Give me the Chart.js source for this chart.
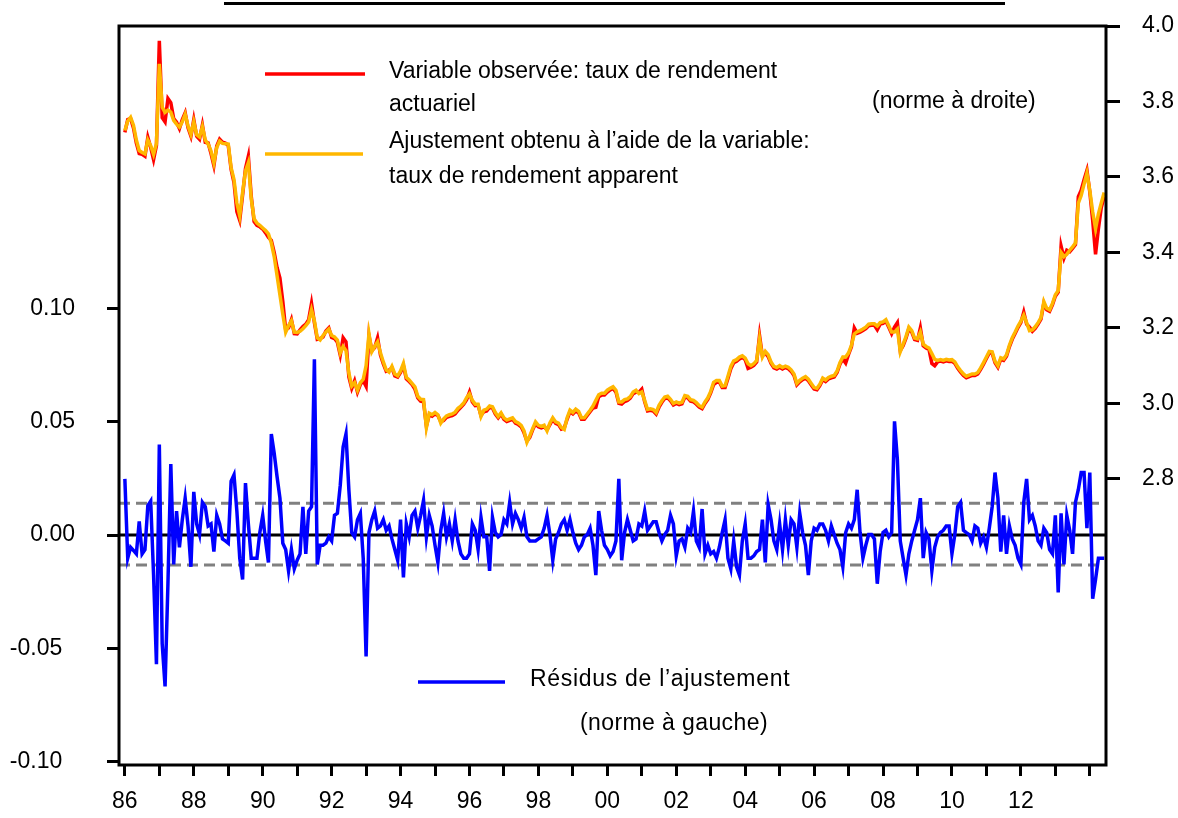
<!DOCTYPE html>
<html>
<head>
<meta charset="utf-8">
<script src="https://cdn.jsdelivr.net/npm/chart.js@4.4.1/dist/chart.umd.min.js"></script>
<style>
  html, body { margin: 0; padding: 0; background: #ffffff; }
  #wrap { position: relative; width: 1178px; height: 818px; }
</style>
</head>
<body>
<div id="wrap"><canvas id="c" width="1178" height="818"></canvas></div>
<script>
// ---- Data (monthly, Jan 1986 .. Jun 2014) ----
const startYear = 1986;
const xTickLabelYears = [1986, 1988, 1990, 1992, 1994, 1996, 1998, 2000, 2002, 2004, 2006, 2008, 2010, 2012];
const leftTicks = [-0.10, -0.05, 0.00, 0.05, 0.10];
const rightTicks = [2.8, 3.0, 3.2, 3.4, 3.6, 3.8, 4.0];
const bandUpper = 0.0140;
const bandLower = -0.0132;

// Variable observée : taux de rendement actuariel (right axis)
const observed = [
  3.718,3.752,3.755,3.730,3.690,3.662,3.660,3.655,3.705,3.678,3.646,3.683,
  3.961,3.757,3.746,3.808,3.797,3.755,3.745,3.728,3.752,3.770,3.730,3.708,
  3.752,3.708,3.700,3.738,3.692,3.690,3.662,3.630,3.682,3.700,3.692,3.690,
  3.684,3.620,3.585,3.508,3.485,3.552,3.622,3.655,3.550,3.482,3.472,3.468,
  3.462,3.452,3.440,3.432,3.400,3.360,3.332,3.270,3.195,3.200,3.222,3.185,
  3.184,3.195,3.204,3.210,3.222,3.265,3.214,3.170,3.172,3.176,3.192,3.200,
  3.175,3.172,3.162,3.128,3.174,3.163,3.070,3.040,3.060,3.030,3.050,3.060,
  3.045,3.180,3.140,3.148,3.174,3.128,3.105,3.085,3.088,3.094,3.073,3.070,
  3.082,3.100,3.065,3.058,3.050,3.038,3.015,3.006,3.004,2.940,2.970,2.966,
  2.972,2.968,2.952,2.955,2.963,2.966,2.968,2.972,2.982,2.990,2.998,3.010,
  3.030,3.004,2.994,2.995,2.968,2.978,2.980,2.990,2.988,2.972,2.962,2.972,
  2.958,2.952,2.955,2.958,2.948,2.944,2.938,2.922,2.900,2.910,2.930,2.946,
  2.938,2.935,2.938,2.930,2.944,2.958,2.947,2.944,2.932,2.935,2.958,2.978,
  2.972,2.980,2.975,2.958,2.958,2.968,2.978,2.988,2.990,3.018,3.022,3.022,
  3.030,3.036,3.040,3.030,3.000,2.998,3.005,3.008,3.014,3.026,3.030,3.030,
  3.038,3.004,2.980,2.982,2.980,2.972,2.990,3.003,3.013,3.015,3.007,2.996,
  3.000,2.997,2.999,3.017,3.015,3.006,3.004,2.998,2.990,2.986,3.000,3.011,
  3.028,3.050,3.056,3.057,3.042,3.042,3.066,3.092,3.108,3.112,3.118,3.122,
  3.116,3.093,3.096,3.101,3.110,3.180,3.126,3.134,3.124,3.106,3.094,3.091,
  3.096,3.091,3.095,3.092,3.085,3.074,3.049,3.057,3.063,3.067,3.060,3.049,
  3.038,3.036,3.047,3.063,3.058,3.065,3.068,3.070,3.082,3.104,3.118,3.107,
  3.130,3.150,3.200,3.186,3.189,3.193,3.198,3.206,3.207,3.207,3.195,3.210,
  3.212,3.218,3.202,3.185,3.202,3.214,3.140,3.153,3.173,3.198,3.189,3.169,
  3.167,3.200,3.153,3.147,3.143,3.106,3.100,3.110,3.112,3.110,3.113,3.111,
  3.112,3.106,3.093,3.083,3.074,3.068,3.071,3.074,3.074,3.078,3.090,3.104,
  3.119,3.134,3.133,3.108,3.096,3.117,3.114,3.125,3.150,3.170,3.185,3.201,
  3.214,3.242,3.210,3.202,3.191,3.199,3.210,3.223,3.266,3.248,3.244,3.261,
  3.284,3.295,3.417,3.385,3.406,3.402,3.411,3.421,3.548,3.565,3.593,3.618,
  3.560,3.485,3.395,3.463,3.519,3.548
];

// Ajustement obtenu à l'aide du taux de rendement apparent (right axis)
const fitted = [
  3.723,3.748,3.758,3.737,3.698,3.670,3.665,3.661,3.698,3.683,3.660,3.689,
  3.900,3.785,3.771,3.777,3.772,3.750,3.740,3.732,3.746,3.766,3.735,3.713,
  3.746,3.712,3.706,3.733,3.698,3.687,3.669,3.637,3.678,3.695,3.689,3.688,
  3.687,3.625,3.593,3.531,3.497,3.559,3.616,3.638,3.542,3.489,3.478,3.472,
  3.465,3.458,3.449,3.425,3.389,3.338,3.287,3.236,3.189,3.206,3.219,3.189,
  3.188,3.191,3.198,3.206,3.216,3.248,3.219,3.174,3.168,3.180,3.189,3.197,
  3.180,3.176,3.168,3.134,3.151,3.140,3.080,3.046,3.055,3.035,3.055,3.064,
  3.100,3.185,3.137,3.151,3.163,3.134,3.110,3.089,3.083,3.098,3.078,3.073,
  3.086,3.106,3.069,3.062,3.053,3.044,3.019,3.011,3.010,2.936,2.974,2.970,
  2.976,2.970,2.948,2.959,2.967,2.970,2.972,2.977,2.987,2.993,3.001,3.015,
  3.025,3.008,2.998,2.998,2.965,2.982,2.985,2.993,2.991,2.976,2.965,2.975,
  2.962,2.956,2.959,2.962,2.952,2.948,2.942,2.927,2.897,2.914,2.933,2.951,
  2.942,2.939,2.942,2.927,2.948,2.962,2.951,2.948,2.936,2.931,2.962,2.982,
  2.976,2.985,2.979,2.962,2.962,2.972,2.982,2.993,3.008,3.023,3.027,3.027,
  3.035,3.040,3.044,3.035,3.004,3.004,3.010,3.012,3.018,3.030,3.035,3.026,
  3.030,3.008,2.984,2.986,2.984,2.976,2.995,3.007,3.017,3.019,3.011,3.000,
  3.004,3.001,3.003,3.021,3.019,3.010,3.008,3.002,2.994,2.990,3.004,3.015,
  3.032,3.056,3.061,3.061,3.046,3.047,3.072,3.098,3.113,3.116,3.123,3.126,
  3.120,3.105,3.100,3.105,3.114,3.171,3.123,3.138,3.129,3.110,3.098,3.095,
  3.100,3.095,3.099,3.096,3.089,3.078,3.053,3.061,3.067,3.071,3.064,3.053,
  3.042,3.040,3.051,3.067,3.062,3.069,3.072,3.074,3.086,3.108,3.123,3.123,
  3.134,3.154,3.184,3.190,3.193,3.197,3.202,3.210,3.211,3.211,3.205,3.214,
  3.216,3.222,3.206,3.189,3.189,3.197,3.137,3.157,3.177,3.202,3.193,3.173,
  3.171,3.189,3.157,3.151,3.147,3.132,3.117,3.114,3.116,3.114,3.117,3.115,
  3.116,3.110,3.097,3.087,3.078,3.072,3.075,3.078,3.078,3.082,3.094,3.108,
  3.123,3.138,3.137,3.112,3.100,3.121,3.118,3.129,3.154,3.174,3.189,3.205,
  3.218,3.234,3.214,3.193,3.195,3.203,3.214,3.227,3.270,3.252,3.248,3.265,
  3.288,3.299,3.400,3.389,3.395,3.406,3.415,3.425,3.531,3.551,3.581,3.610,
  3.564,3.508,3.463,3.502,3.531,3.559
];

// Résidus de l'ajustement (left axis)
const residuals = [
  0.0248,-0.0102,-0.0054,-0.0068,-0.0083,0.0060,-0.0083,-0.0064,0.0130,0.0150,-0.0177,-0.0570,
  0.0400,-0.0480,-0.0668,-0.0215,0.0313,-0.0130,0.0106,-0.0054,0.0068,0.0163,0.0040,-0.0140,
  0.0191,0.0049,0.0002,0.0144,0.0125,0.0040,0.0049,-0.0073,0.0087,0.0049,-0.0017,-0.0026,
  -0.0036,0.0238,0.0266,0.0106,-0.0102,-0.0196,0.0229,0.0049,-0.0102,-0.0102,-0.0102,0.0011,
  0.0087,-0.0026,-0.0121,0.0446,0.0361,0.0257,0.0163,-0.0036,-0.0064,-0.0158,-0.0064,-0.0149,
  -0.0111,-0.0083,0.0125,-0.0083,0.0106,0.0125,0.0776,-0.0130,-0.0045,-0.0045,-0.0036,-0.0008,
  -0.0026,0.0087,0.0096,0.0219,0.0389,0.0446,0.0200,0.0011,-0.0008,0.0068,0.0096,-0.0102,
  -0.0536,0.0011,0.0068,0.0106,0.0030,0.0040,0.0068,0.0021,0.0040,-0.0017,-0.0064,-0.0111,
  0.0068,-0.0187,0.0049,-0.0008,0.0087,0.0106,0.0030,0.0087,0.0153,-0.0008,0.0087,0.0040,
  -0.0045,-0.0121,0.0021,0.0096,-0.0008,0.0049,-0.0026,0.0068,-0.0026,-0.0083,-0.0102,-0.0102,
  -0.0083,0.0049,0.0021,-0.0064,0.0078,-0.0008,-0.0008,-0.0158,0.0078,0.0011,-0.0008,0.0002,
  0.0068,0.0049,0.0144,0.0049,0.0096,0.0068,0.0030,0.0078,-0.0008,-0.0026,-0.0026,-0.0026,
  -0.0017,-0.0008,0.0030,0.0087,0.0002,-0.0111,-0.0017,0.0011,0.0049,0.0068,0.0021,0.0068,
  0.0011,-0.0036,-0.0064,-0.0045,-0.0008,0.0002,0.0030,-0.0045,-0.0177,0.0106,0.0021,-0.0045,
  -0.0064,-0.0092,-0.0073,-0.0026,0.0248,-0.0111,0.0011,0.0068,0.0021,-0.0026,-0.0017,0.0049,
  0.0040,0.0106,0.0021,0.0040,0.0059,0.0059,0.0011,-0.0026,0.0002,0.0021,0.0087,0.0049,
  -0.0092,-0.0026,-0.0017,-0.0054,0.0030,0.0011,0.0106,-0.0026,-0.0054,0.0115,-0.0083,-0.0045,
  -0.0083,-0.0073,-0.0102,-0.0054,0.0011,0.0068,-0.0102,-0.0149,-0.0026,-0.0140,-0.0177,-0.0026,
  0.0049,-0.0102,-0.0102,-0.0092,-0.0073,-0.0064,0.0068,-0.0121,0.0134,0.0068,-0.0026,-0.0064,
  0.0049,-0.0064,0.0068,-0.0045,0.0068,0.0049,-0.0054,0.0096,0.0011,-0.0045,-0.0177,-0.0026,
  0.0030,0.0021,0.0049,0.0049,0.0021,-0.0026,0.0040,0.0002,-0.0036,-0.0064,-0.0140,0.0011,
  0.0049,0.0030,0.0068,0.0200,0.0011,-0.0102,-0.0045,0.0002,0.0002,-0.0017,-0.0215,-0.0073,
  0.0011,0.0021,-0.0008,0.0011,0.0502,0.0332,-0.0026,-0.0102,-0.0177,-0.0083,-0.0026,0.0021,
  0.0068,0.0163,-0.0102,0.0011,-0.0017,-0.0158,-0.0054,-0.0008,0.0011,0.0021,0.0040,0.0040,
  -0.0083,0.0002,0.0125,0.0144,0.0021,0.0011,0.0002,-0.0026,0.0040,0.0030,-0.0036,-0.0008,
  -0.0054,0.0030,0.0125,0.0276,0.0163,-0.0073,0.0087,-0.0083,0.0040,-0.0017,-0.0045,-0.0102,
  -0.0130,0.0144,0.0248,0.0068,0.0087,0.0040,-0.0026,-0.0045,0.0030,0.0011,-0.0064,-0.0083,
  0.0087,-0.0253,0.0096,-0.0130,0.0087,0.0021,-0.0083,0.0144,0.0200,0.0276,0.0276,0.0030,
  0.0276,-0.0281,-0.0196,-0.0102,-0.0102,-0.0102
];

// ---- Build chart ----
const months = observed.map((_, i) => startYear + i / 12);
const toPts = arr => arr.map((v, i) => ({ x: months[i], y: v }));

const X_MIN = 1985.83, X_MAX = 2014.47;
const FONT = '"Liberation Sans", Arial, sans-serif';

const refLine = (y, dash, color, xEnd) => ({
  data: [{ x: X_MIN, y: y }, { x: xEnd, y: y }],
  yAxisID: 'yL', borderColor: color, borderWidth: 3, borderDash: dash,
  pointRadius: 0, tension: 0, order: 10
});

const overlayPlugin = {
  id: 'overlay',
  afterDraw(chart) {
    const { ctx, chartArea: a } = chart;
    ctx.save();
    ctx.strokeStyle = '#000'; ctx.lineWidth = 3;
    ctx.strokeRect(a.left, a.top, a.right - a.left, a.bottom - a.top);
    ctx.fillStyle = '#000';
    ctx.fillRect(224, 2, 781, 3);
    ctx.lineWidth = 3.5;
    ctx.strokeStyle = '#FF0000';
    ctx.beginPath(); ctx.moveTo(265, 74); ctx.lineTo(365, 74); ctx.stroke();
    ctx.strokeStyle = '#FFB700';
    ctx.beginPath(); ctx.moveTo(265, 154); ctx.lineTo(363, 154); ctx.stroke();
    ctx.strokeStyle = '#0000FF';
    ctx.beginPath(); ctx.moveTo(418, 682); ctx.lineTo(505, 682); ctx.stroke();
    ctx.fillStyle = '#000';
    ctx.font = '23px ' + FONT;
    ctx.textBaseline = 'alphabetic';
    ctx.textAlign = 'left';
    ctx.fillText('Variable observée: taux de rendement', 389, 78);
    ctx.fillText('actuariel', 389, 111);
    ctx.fillText('Ajustement obtenu à l’aide de la variable:', 389, 148);
    ctx.fillText('taux de rendement apparent', 389, 183);
    ctx.fillText('(norme à droite)', 872, 108);
    ctx.letterSpacing = '0.7px';
    ctx.fillText('Résidus de l’ajustement', 530, 686);
    ctx.letterSpacing = '0.4px';
    ctx.fillText('(norme à gauche)', 580, 730);
    ctx.restore();
  }
};

const tickGrid = (len) => ({
  display: true, drawOnChartArea: false, drawTicks: true,
  tickLength: len, tickWidth: 3, tickColor: '#000', color: '#000', lineWidth: 3
});
const noPad = s => { s.paddingTop = 0; s.paddingBottom = 0; s.paddingLeft = 0; s.paddingRight = 0; };

new Chart(document.getElementById('c'), {
  type: 'line',
  data: {
    datasets: [
      { label: 'Résidus', data: toPts(residuals), yAxisID: 'yL', borderColor: '#0000FF',
        borderWidth: 3.5, pointRadius: 0, tension: 0, order: 3 },
      { label: 'Ajustement', data: toPts(fitted), yAxisID: 'yR', borderColor: '#FFB700',
        borderWidth: 3.5, pointRadius: 0, tension: 0, order: 1 },
      { label: 'Observée', data: toPts(observed), yAxisID: 'yR', borderColor: '#FF0000',
        borderWidth: 3.5, pointRadius: 0, tension: 0, order: 2 },
      refLine(0, [], '#000000', X_MAX),
      refLine(bandUpper, [11, 6], '#808080', 2014.3),
      refLine(bandLower, [11, 6], '#808080', 2014.3)
    ]
  },
  options: {
    responsive: false,
    devicePixelRatio: 1,
    animation: false,
    layout: { padding: { top: 26, left: 0, right: 0, bottom: 0 } },
    plugins: { legend: { display: false }, tooltip: { enabled: false } },
    scales: {
      x: {
        type: 'linear', position: 'bottom', min: X_MIN, max: X_MAX,
        border: { display: false },
        grid: tickGrid(11),
        afterFit(s) { s.height = 53; noPad(s); },
        afterBuildTicks(s) {
          const t = [];
          for (let y = 1986; y <= 2014; y++) t.push({ value: y });
          s.ticks = t;
        },
        ticks: {
          autoSkip: false, maxRotation: 0, padding: 12, color: '#000',
          font: { family: FONT, size: 23 },
          callback: v => xTickLabelYears.includes(v) ? String(v % 100).padStart(2, '0') : ''
        }
      },
      yL: {
        type: 'linear', position: 'left', min: -0.1015, max: 0.2247,
        border: { display: false },
        grid: tickGrid(12),
        afterFit(s) { s.width = 119; noPad(s); },
        afterBuildTicks(s) { s.ticks = leftTicks.map(v => ({ value: v })); },
        ticks: { padding: 32, color: '#000', font: { family: FONT, size: 23 },
          callback: v => v < 0 ? v.toFixed(2) + '\u2007' : v.toFixed(2) }
      },
      yR: {
        type: 'linear', position: 'right', min: 2.042, max: 4.0,
        border: { display: false },
        grid: tickGrid(14),
        afterFit(s) { s.width = 72; noPad(s); },
        afterBuildTicks(s) { s.ticks = rightTicks.map(v => ({ value: v })); },
        ticks: { padding: 22, color: '#000', font: { family: FONT, size: 23 },
          callback: v => v.toFixed(1) }
      }
    }
  },
  plugins: [overlayPlugin]
});
</script>
</body>
</html>
